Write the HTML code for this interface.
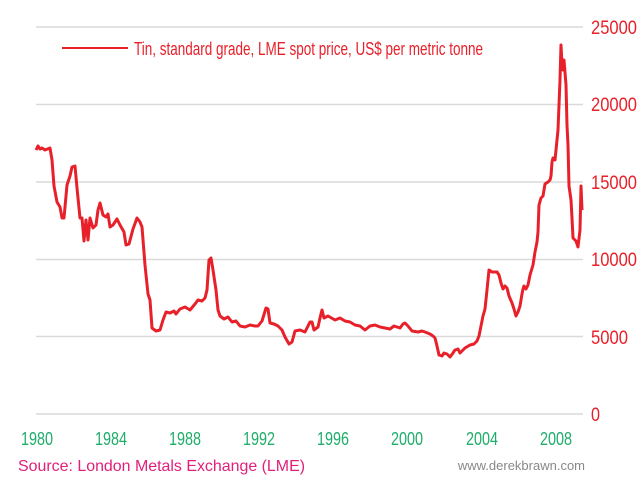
<!DOCTYPE html>
<html><head><style>
body{margin:0;background:#fff;}
svg text{font-family:"Liberation Sans",sans-serif;}
</style></head><body>
<svg width="640" height="480" xmlns="http://www.w3.org/2000/svg">
<rect width="640" height="480" fill="#fff"/>
<g stroke="#dadada" stroke-width="1.5">
<line x1="36" y1="27" x2="583" y2="27"/>
<line x1="36" y1="104.5" x2="583" y2="104.5"/>
<line x1="36" y1="182" x2="583" y2="182"/>
<line x1="36" y1="259.5" x2="583" y2="259.5"/>
<line x1="36" y1="336.5" x2="583" y2="336.5"/>
<line x1="36" y1="414" x2="583" y2="414"/>
</g>
<g fill="#e8202a" font-size="19">
<text x="591" y="34" textLength="46" lengthAdjust="spacingAndGlyphs">25000</text>
<text x="591" y="111" textLength="46" lengthAdjust="spacingAndGlyphs">20000</text>
<text x="591" y="189" textLength="46" lengthAdjust="spacingAndGlyphs">15000</text>
<text x="591" y="266" textLength="46" lengthAdjust="spacingAndGlyphs">10000</text>
<text x="591" y="344" textLength="37" lengthAdjust="spacingAndGlyphs">5000</text>
<text x="591" y="421" textLength="9" lengthAdjust="spacingAndGlyphs">0</text>
</g>
<g fill="#1fae6a" font-size="18">
<text x="21" y="445" textLength="32" lengthAdjust="spacingAndGlyphs">1980</text>
<text x="95" y="445" textLength="32" lengthAdjust="spacingAndGlyphs">1984</text>
<text x="169" y="445" textLength="32" lengthAdjust="spacingAndGlyphs">1988</text>
<text x="243" y="445" textLength="32" lengthAdjust="spacingAndGlyphs">1992</text>
<text x="317" y="445" textLength="32" lengthAdjust="spacingAndGlyphs">1996</text>
<text x="391" y="445" textLength="32" lengthAdjust="spacingAndGlyphs">2000</text>
<text x="466" y="445" textLength="32" lengthAdjust="spacingAndGlyphs">2004</text>
<text x="540" y="445" textLength="32" lengthAdjust="spacingAndGlyphs">2008</text>
</g>
<line x1="62" y1="48" x2="128" y2="48" stroke="#e8202a" stroke-width="2"/>
<text x="134" y="55" fill="#e8202a" font-size="18" textLength="349" lengthAdjust="spacingAndGlyphs">Tin, standard grade, LME spot price, US$ per metric tonne</text>
<text x="18" y="471" fill="#e0207a" font-size="16" textLength="287" lengthAdjust="spacingAndGlyphs">Source: London Metals Exchange (LME)</text>
<text x="585" y="470" fill="#888" font-size="13" text-anchor="end">www.derekbrawn.com</text>
<polyline fill="none" stroke="#e8202a" stroke-width="3" stroke-linejoin="round" points="36,150 38,146 40,149 42,148 45,150 50,148 52,160 54,186 57,202 60,207 62,218 64,218 67,185 70,176 72,167 75,166 77,188 80,218 82,218 84,241 86,220 88,240 90,218 93,228 96,225 98,210 100,203 103,215 106,217 108,214 110,227 113,225 117,219 120,225 124,232 126,245 129,244 133,229 137,218 140,222 142,227 145,265 148,294 150,300 152,328 156,331 160,330 163,320 166,312 170,313 174,311 176,314 180,309 185,307 190,310 195,304 198,300 202,301 205,298 207,290 209,260 211,258 213,270 216,290 218,310 220,316 224,319 228,317 232,322 236,321 240,326 245,327 250,325 255,326 258,326 262,321 266,308 268,309 270,323 274,324 278,326 282,330 285,337 289,344 292,342 295,331 300,330 305,332 310,322 312,322 314,330 318,327 320,318 322,310 324,318 328,316 335,320 340,318 345,321 350,322 355,325 360,326 365,330 370,326 375,325 380,327 385,328 390,329 394,326 400,328 403,324 405,323 408,326 412,331 418,332 422,331 425,332 430,334 433,336 435,338 437,346 439,355 442,356 444,353 447,354 450,357 453,353 455,350 458,349 460,353 462,351 465,348 470,345 474,344 477,341 479,336 481,326 483,316 485,309 487,290 489,270 492,272 497,272 499,275 501,283 503,289 505,286 507,288 509,296 512,303 514,309 516,316 518,312 520,306 522,294 523,289 524,286 526,289 528,285 530,275 533,265 535,252 537,242 538,232 539,205 541,198 543,196 545,184 548,182 550,180 551,176 552,162 553,158 555,160 556,150 558,130 560,80 561,45 562,65 563,70 564,60 566,85 567,125 568,145 569,186 571,200 572,218 573,238 576,241 578,247 580,230 581,186 582,210"/>
</svg>
</body></html>
